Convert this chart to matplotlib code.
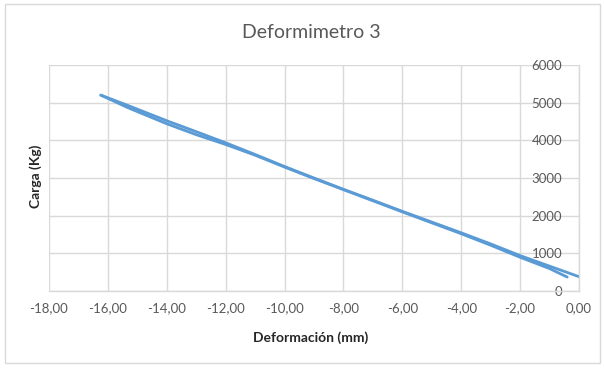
import matplotlib
matplotlib.use("Agg")
import matplotlib.pyplot as plt
from matplotlib.patches import Rectangle

# Loading branch (deformation in mm, load in kg)
def_carga = [-16.24, -15.3, -14.0, -13.0, -12.0, -11.0, -10.0, -9.0, -8.0,
             -7.0, -6.0, -5.0, -4.0, -3.0, -2.0, -1.0, 0.0]
carga_carga = [5200, 4920, 4520, 4230, 3935, 3625, 3305, 3000, 2700,
               2410, 2115, 1830, 1545, 1250, 940, 660, 380]

# Unloading branch
def_descarga = [-16.24, -15.3, -14.0, -13.0, -12.0, -11.0, -10.0, -9.0, -8.0,
                -7.0, -6.0, -5.0, -4.0, -3.0, -2.0, -1.0, -0.4]
carga_descarga = [5200, 4860, 4440, 4150, 3890, 3605, 3290, 2985, 2690,
                  2395, 2100, 1810, 1520, 1215, 895, 595, 370]

x_ticks = [-18, -16, -14, -12, -10, -8, -6, -4, -2, 0]
y_ticks = [0, 1000, 2000, 3000, 4000, 5000, 6000]

FONT = ["Lato", "DejaVu Sans"]
TXT = "#595959"
GRID = "#D9D9D9"
LINE = "#5B9BD5"

W, H = 605, 369
fig = plt.figure(figsize=(W / 100, H / 100), dpi=100)
fig.patch.set_facecolor("white")

# chart border
fig.patches.append(Rectangle((5 / W, 1 - 363 / H), 595 / W, 359 / H,
                             transform=fig.transFigure, fill=False,
                             edgecolor=GRID, linewidth=1.0))

ax = fig.add_axes([49 / W, 1 - 291 / H, 530 / W, 226 / H])
ax.plot(def_carga, carga_carga, color=LINE, linewidth=2.0,
        solid_capstyle="round", solid_joinstyle="round")
ax.plot(def_descarga, carga_descarga, color=LINE, linewidth=2.0,
        solid_capstyle="round", solid_joinstyle="round")

ax.set_xlim(-18, 0)
ax.set_ylim(0, 6000)
ax.set_xticks(x_ticks)
ax.set_xticklabels([f"{v:.2f}".replace(".", ",") for v in x_ticks])
ax.set_yticks(y_ticks)

ax.grid(True, color=GRID, linewidth=1.0)
ax.set_axisbelow(True)
for side in ("top", "left"):
    ax.spines[side].set_visible(False)
for side in ("bottom", "right"):
    ax.spines[side].set_color(GRID)
    ax.spines[side].set_linewidth(1.0)

ax.tick_params(axis="x", length=0, pad=8, labelsize=9.5, labelcolor=TXT)
ax.yaxis.tick_right()
ax.tick_params(axis="y", length=0, pad=-12, labelsize=9.5, labelcolor=TXT)
for lab in ax.get_yticklabels():
    lab.set_horizontalalignment("right")
for lab in ax.get_xticklabels() + ax.get_yticklabels():
    lab.set_family(FONT)

fig.text(311 / W, 1 - 33 / H, "Deformimetro 3", ha="center", va="center",
         fontsize=14, color=TXT, family=FONT)
fig.text(311 / W, 1 - 338 / H, "Deformación (mm)", ha="center", va="center",
         fontsize=10, fontweight="bold", color="#262626", family=FONT)
fig.text(36 / W, 1 - 176 / H, "Carga (Kg)", ha="center", va="center",
         rotation=90, fontsize=10, fontweight="bold", color="#262626",
         family=FONT)

fig.savefig("out.png", dpi=100)
